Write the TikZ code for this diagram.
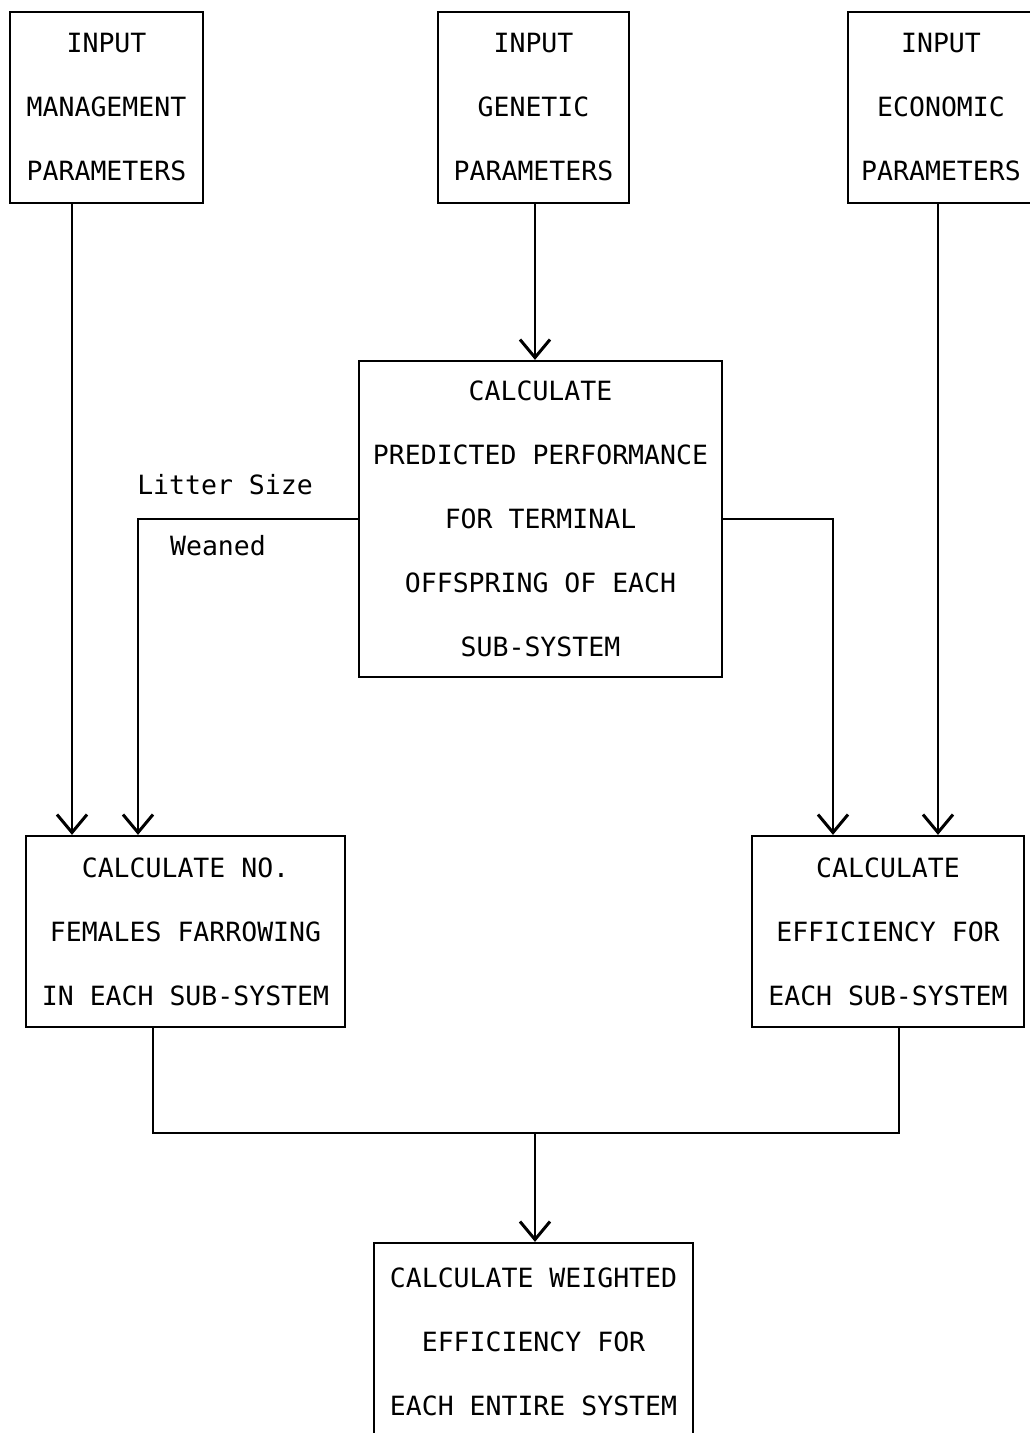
\documentclass[tikz,border=0pt]{standalone}
\usepackage{fontspec}
\setmonofont{DejaVu Sans Mono}
\usetikzlibrary{positioning,arrows.meta}

\begin{document}
\begin{tikzpicture}[x=1pt,y=-1pt,
  every node/.style={inner sep=0pt,font=\ttfamily\fontsize{26.5}{64}\selectfont},
  stepbox/.style={draw,line width=2.3pt,align=center},
  link/.style={line width=1.8pt},
  flow/.style={link,-{Straight Barb[length=18pt,width=30pt,line width=3pt]}}]
\useasboundingbox (0,0) rectangle (1029,1433);
\fill [white] (0,0) rectangle (1029,1433);
% input boxes
\node [stepbox,minimum width=193pt,minimum height=191pt] (mgmt) at (106.5,107.5) {INPUT\\MANAGEMENT\\PARAMETERS};
\node [stepbox,minimum width=191pt,minimum height=191pt] (genet) at (533.5,107.5) {INPUT\\GENETIC\\PARAMETERS};
\node [stepbox,minimum width=186pt,minimum height=191pt] (econ) at (941,107.5) {INPUT\\ECONOMIC\\PARAMETERS};
% calculation boxes
\node [stepbox,minimum width=363pt,minimum height=316pt] (predict) at (540.5,519) {CALCULATE\\PREDICTED PERFORMANCE\\FOR TERMINAL\\OFFSPRING OF EACH\\SUB-SYSTEM};
\node [stepbox,minimum width=319pt,minimum height=191pt] (females) at (185.5,931.5) {CALCULATE NO.\\FEMALES FARROWING\\IN EACH SUB-SYSTEM};
\node [stepbox,minimum width=272pt,minimum height=191pt] (effic) at (888,931.5) {CALCULATE\\EFFICIENCY FOR\\EACH SUB-SYSTEM};
\node [stepbox,minimum width=319pt,minimum height=197pt] (weighted) at (533.5,1341.5) {CALCULATE WEIGHTED\\EFFICIENCY FOR\\EACH ENTIRE SYSTEM};
% columns of the connectors
\coordinate (c1) at (72,0);
\coordinate (c2) at (138,0);
\coordinate (c3) at (535,0);
\coordinate (c4) at (833,0);
\coordinate (c5) at (938,0);
\coordinate (c6) at (153,0);
\coordinate (c7) at (899,0);
\coordinate (bus) at (0,1133);
% connectors
\draw [flow] (c1 |- mgmt.south) -- (c1 |- females.north);
\draw [flow] (c3 |- genet.south) -- (c3 |- predict.north);
\draw [flow] (c5 |- econ.south) -- (c5 |- effic.north);
\draw [flow] (predict.west) -| (c2 |- females.north);
\draw [flow] (predict.east) -| (c4 |- effic.north);
\draw [link] (c6 |- females.south) |- (c7 |- bus) -- (c7 |- effic.south);
\draw [flow] (c3 |- bus) -- (c3 |- weighted.north);
\node (litter) at (225,485) {Litter Size};
\node (weaned) at (218,546) {Weaned};
\end{tikzpicture}
\end{document}
